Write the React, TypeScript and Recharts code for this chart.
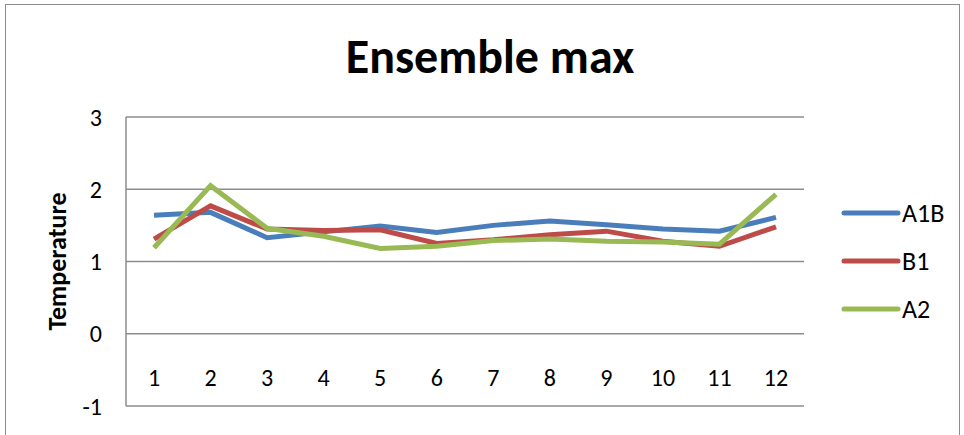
import React from "react";
import { LineChart, Line, XAxis, YAxis, CartesianGrid, Legend } from "recharts";

// Monthly ensemble maximum temperature anomaly per emission scenario
const months = ["1", "2", "3", "4", "5", "6", "7", "8", "9", "10", "11", "12"];
const a1b = [1.64, 1.68, 1.33, 1.41, 1.49, 1.4, 1.5, 1.56, 1.51, 1.45, 1.42, 1.61];
const b1 = [1.31, 1.77, 1.45, 1.43, 1.44, 1.25, 1.3, 1.37, 1.42, 1.28, 1.21, 1.48];
const a2 = [1.19, 2.05, 1.46, 1.35, 1.18, 1.21, 1.29, 1.31, 1.28, 1.27, 1.24, 1.93];
const yTicks = [-1, 0, 1, 2, 3];

const series = [
  { key: "A1B", values: a1b, color: "#4a7ebb" },
  { key: "B1", values: b1, color: "#be4b48" },
  { key: "A2", values: a2, color: "#98b954" },
];

const data = months.map((m, i) => ({
  month: m,
  A1B: a1b[i],
  B1: b1[i],
  A2: a2[i],
}));

const FONT = "Carlito, Lato, 'Open Sans', sans-serif";

// Category labels sit just under the zero line rather than at the bottom
const MonthTick = (props: any) => {
  const { x, y, payload } = props;
  return (
    <text x={x} y={y - 28} textAnchor="middle" fontSize={24} fontFamily={FONT} fill="#000">
      {payload.value}
    </text>
  );
};

// Rotated axis title centred in the space left of the value labels
const AxisTitle = (props: any) => {
  const { viewBox } = props;
  const cx = viewBox.x + 57;
  const cy = viewBox.y + viewBox.height / 2;
  return (
    <text
      x={cx}
      y={cy}
      transform={`rotate(-90 ${cx} ${cy})`}
      textAnchor="middle"
      dominantBaseline="central"
      fontSize={26}
      fontWeight={700}
      fontFamily={FONT}
      fill="#000"
    >
      Temperature
    </text>
  );
};

const LegendBox = () => (
  <div style={{ fontFamily: FONT, fontSize: 26, color: "#000", lineHeight: "26px" }}>
    {series.map((s) => (
      <div key={s.key} style={{ display: "flex", alignItems: "center", height: 48 }}>
        <svg width={60} height={10}>
          <line x1={3} y1={5} x2={57} y2={5} stroke={s.color} strokeWidth={5} strokeLinecap="round" />
        </svg>
        <span style={{ marginLeft: 1 }}>{s.key}</span>
      </div>
    ))}
  </div>
);

export default function App() {
  return (
    <div
      style={{
        position: "absolute",
        left: 0,
        top: 0,
        width: 964,
        height: 435,
        background: "#fff",
        overflow: "hidden",
      }}
    >
      <div
        style={{
          position: "absolute",
          left: 5,
          top: 4,
          width: 953,
          height: 460,
          border: "1.5px solid #8c8c8c",
        }}
      />
      <div
        style={{
          position: "absolute",
          left: 0,
          top: 28,
          width: 980,
          textAlign: "center",
          fontFamily: FONT,
          fontWeight: 700,
          fontSize: 48,
          lineHeight: "58px",
          color: "#000",
        }}
      >
        Ensemble max
      </div>
      <div style={{ position: "absolute", left: 0, top: 0 }}>
        <LineChart width={964} height={435} data={data} margin={{ top: 117, right: 40, bottom: 0, left: 0 }}>
          <CartesianGrid vertical={false} stroke="#8c8c8c" strokeWidth={1.5} />
          <XAxis
            dataKey="month"
            height={29}
            padding={{ left: 28, right: 28 }}
            axisLine={false}
            tickLine={false}
            interval={0}
            tick={<MonthTick />}
          />
          <YAxis
            width={126}
            domain={[-1, 3]}
            ticks={yTicks}
            interval={0}
            axisLine={{ stroke: "#8c8c8c", strokeWidth: 1.5 }}
            tickLine={false}
            tickSize={0}
            tickMargin={24}
            tick={{ fontSize: 24, fontFamily: FONT, fill: "#000" }}
            label={<AxisTitle />}
          />
          <Legend
            layout="vertical"
            verticalAlign="top"
            align="right"
            content={<LegendBox />}
            wrapperStyle={{ left: 841, top: 189, width: 120 }}
          />
          {series.map((s) => (
            <Line
              key={s.key}
              dataKey={s.key}
              stroke={s.color}
              strokeWidth={5}
              dot={false}
              isAnimationActive={false}
            />
          ))}
        </LineChart>
      </div>
    </div>
  );
}
